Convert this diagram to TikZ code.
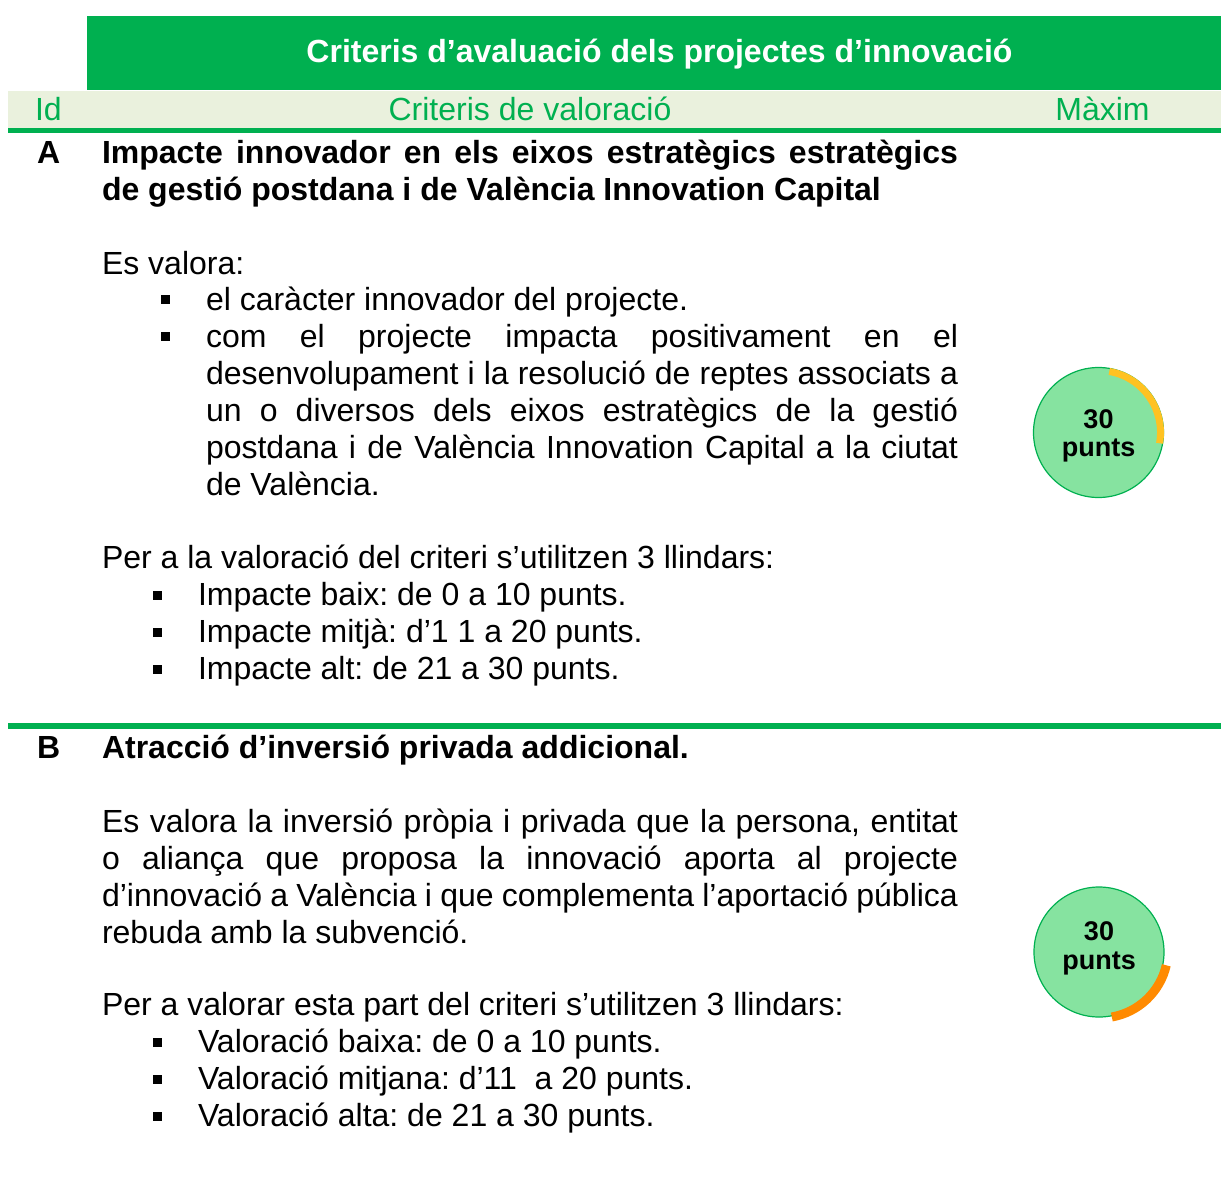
\documentclass[tikz,border=0pt]{standalone}
\usepackage{fontspec}
\setmainfont{Liberation Sans}
\definecolor{hgreen}{HTML}{00B050}
\definecolor{band}{HTML}{EAF1DD}
\definecolor{cfill}{HTML}{86E3A0}
\definecolor{ayellow}{HTML}{FFC222}
\definecolor{aorange}{HTML}{FF8A00}
\hyphenpenalty=10000 \exhyphenpenalty=10000 \tolerance=10000 \hbadness=10000
\frenchspacing
\tikzset{
  txt/.style={inner sep=0pt, outer sep=0pt, anchor=base west, font=\frenchspacing\fontsize{32}{37}\selectfont},
  btxt/.style={txt, font=\frenchspacing\bfseries\fontsize{32}{37}\selectfont},
  para/.style={txt, text width=#1, align=justify},
  bpara/.style={btxt, text width=#1, align=justify},
  hdr/.style={txt, anchor=base, text=hgreen},
  bul/.style={fill=black, minimum width=9pt, minimum height=8.5pt, inner sep=0pt, outer sep=0pt},
  score/.style={circle, draw=hgreen, line width=1.2pt, fill=cfill, minimum size=130pt, inner sep=0pt},
  scoretxt/.style={inner sep=0pt, outer sep=0pt, anchor=base, font=\bfseries\fontsize{27}{31}\selectfont},
}
\begin{document}
\begin{tikzpicture}[x=1pt,y=-1pt]
\useasboundingbox (0,0) rectangle (1221,1202);
% header
\node[fill=hgreen, minimum width=1134pt, minimum height=74pt, inner sep=0pt, anchor=north west] (head) at (87,16) {};
\node[btxt, anchor=base, text=white] (title) at (659.5,62) {Criteris d’avaluació dels projectes d’innovació};
\node[fill=band, minimum width=1213pt, minimum height=37pt, inner sep=0pt, anchor=north west] (band) at (8,91) {};
\node[fill=hgreen, minimum width=1213pt, minimum height=5pt, inner sep=0pt, anchor=north west] (lineA) at (8,128) {};
\node[txt, text=hgreen] (hid) at (35,120) {Id};
\node[hdr] (hcrit) at (530,120) {Criteris de valoració};
\node[hdr] (hmax) at (1102.5,120) {Màxim};
% section A
\node[btxt] (idA) at (37,163) {A};
\node[bpara=856pt] (headA) at (102,163) {Impacte innovador en els eixos estratègics estratègics\linebreak de gestió postdana i de València Innovation Capital};
\node[txt] (esval) at (102,274) {Es valora:};
\node[bul] (bA1) at (165,299.5) {};
\node[para=752pt] (tA1) at (206,310) {el caràcter innovador del projecte.};
\node[bul] (bA2) at (165,336.5) {};
\node[para=752pt] (tA2) at (206,347) {com el projecte impacta positivament en el\linebreak desenvolupament i la resolució de reptes associats a\linebreak un o diversos dels eixos estratègics de la gestió\linebreak postdana i de València Innovation Capital a la ciutat\linebreak de València.};
\node[txt] (perA) at (102,568) {Per a la valoració del criteri s’utilitzen 3 llindars:};
\node[bul] (bA3) at (157,595.5) {};
\node[txt] (tA3) at (198,605) {Impacte baix: de 0 a 10 punts.};
\node[bul] (bA4) at (157,632.5) {};
\node[txt] (tA4) at (198,642) {Impacte mitjà: d’1 1 a 20 punts.};
\node[bul] (bA5) at (157,669.5) {};
\node[txt] (tA5) at (198,679) {Impacte alt: de 21 a 30 punts.};
\node[score] (cA) at (1098.5,432.5) {};
\node[scoretxt] (cA30) at (1098.5,428) {30};
\node[scoretxt] (cApt) at (1098.5,456) {punts};
\coordinate (cAc) at (1098.5,432.5);
\draw[ayellow, line width=7pt] ([shift={(-80:62)}]cAc) arc[start angle=-80, end angle=10, radius=62];
% section B
\node[fill=hgreen, minimum width=1213pt, minimum height=6pt, inner sep=0pt, anchor=north west] (lineB) at (8,723) {};
\node[btxt] (idB) at (37,758) {B};
\node[btxt] (headB) at (102,758) {Atracció d’inversió privada addicional.};
\node[para=856pt] (pB) at (102,832) {Es valora la inversió pròpia i privada que la persona, entitat\linebreak o aliança que proposa la innovació aporta al projecte\linebreak d’innovació a València i que complementa l’aportació pública\linebreak rebuda amb la subvenció.};
\node[txt] (perB) at (102,1015) {Per a valorar esta part del criteri s’utilitzen 3 llindars:};
\node[bul] (bB1) at (157,1042.5) {};
\node[txt] (tB1) at (198,1052) {Valoració baixa: de 0 a 10 punts.};
\node[bul] (bB2) at (157,1079.5) {};
\node[txt] (tB2) at (198,1089) {Valoració mitjana: d’11\ \ a 20 punts.};
\node[bul] (bB3) at (157,1116.5) {};
\node[txt] (tB3) at (198,1126) {Valoració alta: de 21 a 30 punts.};
\node[score] (cB) at (1099,952) {};
\node[scoretxt] (cB30) at (1099,940) {30};
\node[scoretxt] (cBpt) at (1099,969) {punts};
\coordinate (cBc) at (1100,950);
\draw[aorange, line width=9pt] ([shift={(13:68)}]cBc) arc[start angle=13, end angle=80, radius=68];
\end{tikzpicture}
\end{document}
